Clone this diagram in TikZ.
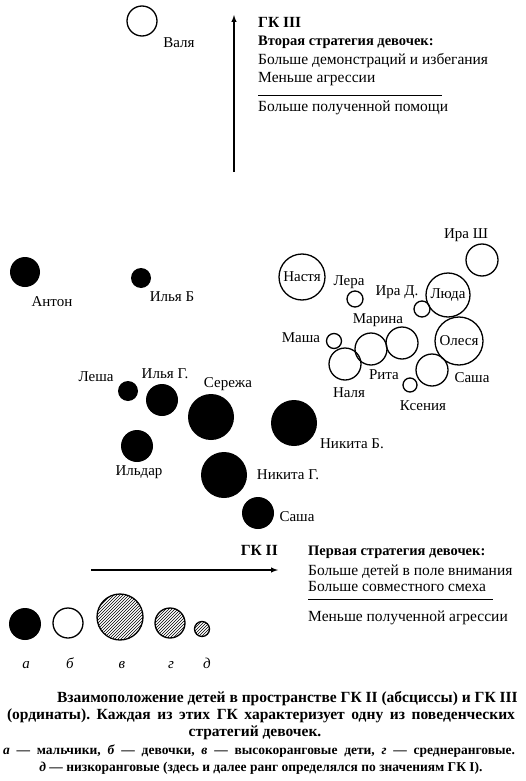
\documentclass[tikz,border=0pt]{standalone}
\usepackage{fontspec}
\setmainfont{Liberation Serif}
\usetikzlibrary{patterns}
\usetikzlibrary{arrows}
\frenchspacing

\tikzset{
  boy/.style={circle, fill=black, inner sep=0pt},
  girl/.style={circle, draw=black, line width=1.3pt, inner sep=0pt, font=\fontsize{15}{15}\selectfont},
  rank/.style={circle, draw=black, line width=1.3pt, inner sep=0pt, pattern=north east lines},
  kid/.style={anchor=base, font=\fontsize{15}{15}\selectfont},
  txt/.style={anchor=base west, inner sep=0pt, font=\fontsize{15.5}{15.5}\selectfont},
  capt/.style={anchor=base, inner sep=0pt, font=\fontsize{15.5}{15.5}\selectfont\bfseries},
  note/.style={anchor=base, inner sep=0pt, font=\fontsize{13.5}{13.5}\selectfont\bfseries},
  axis/.style={->, >=latex, line width=1.4pt}
}

\begin{document}
\begin{tikzpicture}[x=1pt, y=-1pt]
\useasboundingbox (0,0) rectangle (525,781);

% GK III axis and its text
\coordinate (v0) at (234,172);
\coordinate (v1) at (234,15);
\draw[axis] (v0) -- (v1);
\node[txt, font=\fontsize{15.5}{15.5}\selectfont\bfseries] (gk3) at (258,28) {ГК III};
\node[txt, font=\fontsize{14.5}{14.5}\selectfont\bfseries] (s2) at (258,46) {Вторая стратегия девочек:};
\node[txt] (s2a) at (258,65) {Больше демонстраций и избегания};
\node[txt] (s2b) at (258,83) {Меньше агрессии};
\draw[line width=0.8pt] (258,95) -- (442,95);
\node[txt] (s2c) at (258,112) {Больше полученной помощи};

% girls
\node[girl, minimum size=30] (valja) at (142,21) {};
\node[kid] (lvalja) at (179,48) {Валя};
\node[girl, minimum size=46] (nastja) at (302,277) {Настя};
\node[girl, minimum size=16] (lera) at (355,299) {};
\node[kid] (llera) at (349,285) {Лера};
\node[girl, minimum size=16] (irad) at (422,309) {};
\node[kid] (lirad) at (397,295) {Ира Д.};
\node[girl, minimum size=44] (ljuda) at (448,295) {Люда};
\node[girl, minimum size=32] (irash) at (482,260) {};
\node[kid] (lirash) at (466,238) {Ира Ш};
\node[girl, minimum size=15] (masha) at (334,341) {};
\node[kid] (lmasha) at (301,342) {Маша};
\node[girl, minimum size=32] (marina) at (402,343) {};
\node[kid] (lmarina) at (378,323) {Марина};
\node[girl, minimum size=32] (rita) at (371,349) {};
\node[kid] (lrita) at (384,379) {Рита};
\node[girl, minimum size=32] (nadja) at (345,364) {};
\node[kid] (lnadja) at (349,397) {Наля};
\node[girl, minimum size=48] (olesja) at (459,341) {Олеся};
\node[girl, minimum size=32] (sasha2) at (432,370) {};
\node[kid] (lsasha2) at (472,382) {Саша};
\node[girl, minimum size=14] (ksenija) at (410,385) {};
\node[kid] (lksenija) at (423,410) {Ксения};

% boys
\node[boy, minimum size=30] (anton) at (25,272) {};
\node[kid] (lanton) at (52,306) {Антон};
\node[boy, minimum size=20] (iljab) at (141,278) {};
\node[kid] (liljab) at (172,301) {Илья Б};
\node[boy, minimum size=20] (lesha) at (128,391) {};
\node[kid] (llesha) at (96,381) {Леша};
\node[boy, minimum size=32] (iljag) at (162,400) {};
\node[kid] (liljag) at (165,378) {Илья Г.};
\node[boy, minimum size=46] (serezha) at (211,417) {};
\node[kid] (lserezha) at (228,387) {Сережа};
\node[boy, minimum size=32] (ildar) at (137,446) {};
\node[kid] (lildar) at (139,475) {Ильдар};
\node[boy, minimum size=46] (nikitab) at (294,423) {};
\node[kid] (lnikitab) at (352,448) {Никита Б.};
\node[boy, minimum size=46] (nikitag) at (224,475) {};
\node[kid] (lnikitag) at (288,479) {Никита Г.};
\node[boy, minimum size=32] (sasha1) at (258,513) {};
\node[kid] (lsasha1) at (297,521) {Саша};

% GK II axis and its text
\coordinate (h0) at (91,570);
\coordinate (h1) at (278,570);
\draw[axis] (h0) -- (h1);
\node[txt, anchor=base east, font=\fontsize{15.5}{15.5}\selectfont\bfseries] (gk2) at (278,555) {ГК II};
\node[txt, font=\fontsize{14.5}{14.5}\selectfont\bfseries] (s1) at (308,555) {Первая стратегия девочек:};
\node[txt] (s1a) at (308,575) {Больше детей в поле внимания};
\node[txt] (s1b) at (308,591) {Больше совместного смеха};
\draw[line width=0.8pt] (308,599) -- (493,599);
\node[txt] (s1c) at (308,621) {Меньше полученной агрессии};

% legend
\node[boy, minimum width=30, minimum height=32] (ka) at (25,624) {};
\node[girl, minimum size=30] (kb) at (68,623) {};
\node[rank, minimum size=46] (kv) at (120,617) {};
\node[rank, minimum size=30] (kg) at (170,623) {};
\node[rank, minimum size=15] (kd) at (202,629) {};
\node[kid, font=\fontsize{15}{15}\selectfont\itshape] (la) at (26,668) {а};
\node[kid, font=\fontsize{15}{15}\selectfont\itshape] (lb) at (70,668) {б};
\node[kid, font=\fontsize{15}{15}\selectfont\itshape] (lv) at (122,668) {в};
\node[kid, font=\fontsize{15}{15}\selectfont\itshape] (lg) at (171,668) {г};
\node[kid, font=\fontsize{15}{15}\selectfont\itshape] (ld) at (207,668) {д};

% caption
\node[capt, anchor=base east] (c1) at (518,702)
  {Взаимоположение детей в пространстве ГК II (абсциссы) и ГК III};
\node[capt] (c2) at (261,719)
  {\makebox[508pt][s]{(ординаты). Каждая из этих ГК характеризует одну из поведенческих}};
\node[capt] (c3) at (255,736) {стратегий девочек.};
\node[note] (c4) at (259,754)
  {\makebox[512pt][s]{\textit{а} — мальчики, \textit{б} — девочки, \textit{в} — высокоранговые дети, \textit{г} — среднеранговые.}};
\node[note] (c5) at (261,771)
  {\textit{д} — низкоранговые (здесь и далее ранг определялся по значениям ГК I).};
\end{tikzpicture}
\end{document}
